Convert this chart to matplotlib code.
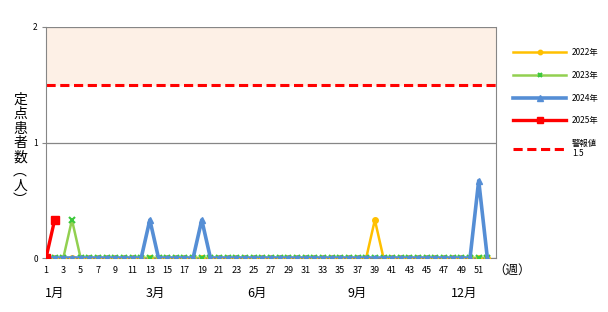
import numpy as np
import matplotlib
matplotlib.use('Agg')
import matplotlib.pyplot as plt
from matplotlib.transforms import blended_transform_factory

plt.rcParams['font.family'] = ['Noto Sans CJK JP', 'DejaVu Sans']

weeks = list(range(1, 53))

# 定点患者数 per week
y2022 = [0] * 52
y2022[38] = 0.33          # week 39
y2023 = [0] * 52
y2023[3] = 0.33           # week 4
y2024 = [0] * 52
y2024[12] = 0.33          # week 13
y2024[18] = 0.33          # week 19
y2024[50] = 0.67          # week 51
y2025 = [0, 0.33]
alert_level = 1.5

month_labels = ['1月', '3月', '6月', '9月', '12月']
month_weeks = [2.0, 13.6, 25.4, 37.0, 49.3]

fig = plt.figure(figsize=(6.08, 3.12), dpi=100)
ax = fig.add_axes([46/608, 54/312, 450/608, 231/312])

ax.axhspan(alert_level, 2, color='#FDF0E6', zorder=0)

ax.plot(weeks, y2022, color='#FFC000', lw=1.8, marker='o', ms=4, label='2022年', zorder=3)
ax.plot(weeks, y2023, color='#92D050', lw=1.8, marker='x', ms=4, mew=1.5,
        mec='#3CC83C', label='2023年', zorder=4)
ax.plot(weeks, y2024, color='#558ED5', lw=2.6, marker='^', ms=5, label='2024年', zorder=5)
ax.plot(weeks[:len(y2025)], y2025, color='#FF0000', lw=2.4, marker='s', ms=5.5,
        label='2025年', zorder=6)
ax.axhline(alert_level, color='#FF0000', lw=2.2, ls=(0, (3, 1.5)), label='警報値\n1.5', zorder=2)

ax.set_xlim(1, 53)
ax.set_ylim(0, 2)
ax.set_yticks([0, 1, 2])
ax.set_xticks(range(1, 53, 2))
ax.tick_params(axis='x', length=0, labelsize=6.5, pad=6)
ax.tick_params(axis='y', length=3, labelsize=6, color='#868686', pad=3)
ax.grid(axis='y', color='#868686', lw=0.9)
ax.set_axisbelow(True)
for s in ['left', 'right', 'bottom']:
    ax.spines[s].set_color('#868686')
ax.spines['top'].set_visible(False)

trans = blended_transform_factory(ax.transData, ax.transAxes)
for lab, w in zip(month_labels, month_weeks):
    ax.text(w, -0.155, lab, transform=trans, ha='center', va='center', fontsize=9)

fig.text(512/608, 1 - 270/312, '（週）', ha='center', va='center', fontsize=9)
fig.text(20/608, 1 - 150/312, '定\n点\n患\n者\n数\n︵\n人\n︶', ha='center', va='center',
         fontsize=10, linespacing=1.03)

leg = ax.legend(loc='upper left', bbox_to_anchor=(513/608, 1 - 48/312),
                bbox_transform=fig.transFigure, frameon=False, fontsize=6,
                handlelength=6.4, labelspacing=1.65, handletextpad=0.7, borderaxespad=0,
                borderpad=0, markerscale=0.8)

fig.savefig('out.png', dpi=100)
